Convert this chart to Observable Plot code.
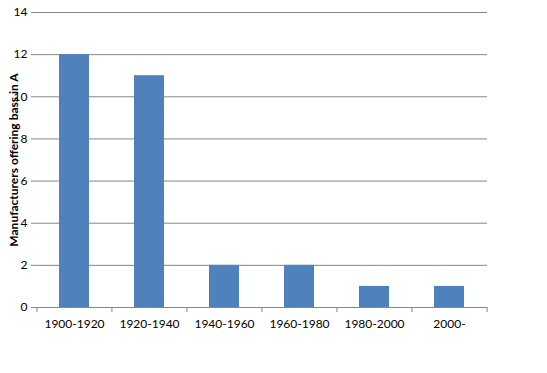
<!DOCTYPE html>
<html><head><meta charset="utf-8">
<script src="https://cdn.jsdelivr.net/npm/d3@7"></script>
<script src="https://cdn.jsdelivr.net/npm/@observablehq/plot@0.6"></script>
<style>
body{margin:0;background:#fff;}
#chart svg{display:block;}
</style>
</head><body><div id="chart"></div>
<script>
const categories = ["1900-1920","1920-1940","1940-1960","1960-1980","1980-2000","2000-"];
const values = [12, 11, 2, 2, 1, 1];
const yTicks = [0, 2, 4, 6, 8, 10, 12, 14];
const yLabel = "Manufacturers offering bass in A";

const data = categories.map((c, i) => ({cat: c, v: values[i]}));
const W = 547, H = 373, ml = 36, mr = 60, mt = 12, mb = 66;
const step = (W - ml - mr) / categories.length;
const font = "Lato, 'Open Sans', sans-serif";
const grid = "#868686";

const chart = Plot.plot({
  width: W, height: H,
  marginLeft: ml, marginRight: mr, marginTop: mt, marginBottom: mb,
  style: {fontFamily: font, fontSize: "12px", color: "#000", background: "#fff"},
  x: {domain: categories, paddingInner: 0.6, paddingOuter: 0.3, label: null},
  y: {domain: [0, 14], ticks: yTicks, label: null},
  marks: [
    Plot.ruleY(yTicks, {stroke: grid, strokeWidth: 1}),
    Plot.barY(data, {x: "cat", y: "v", fill: "#4F81BD"}),
    Plot.ruleX([0], {frameAnchor: "left", stroke: grid}),
    Plot.ruleX(categories, {x: d => d, dx: -step / 2, y1: 0, y2: 0, insetBottom: -5, stroke: grid}),
    Plot.ruleX(categories.slice(-1), {x: d => d, dx: step / 2, y1: 0, y2: 0, insetBottom: -5, stroke: grid}),
    Plot.axisX({tickSize: 0, tickPadding: 12, fontSize: 12, label: null}),
    Plot.axisY({ticks: yTicks, tickSize: 5, stroke: grid, tickPadding: 4, fontSize: 12, label: null}),
    Plot.text([yLabel], {frameAnchor: "left", textAnchor: "middle", dx: -22, rotate: -90, fontWeight: "bold", fontSize: 12, text: d => d})
  ]
});
document.getElementById("chart").append(chart);
</script>
</body></html>
